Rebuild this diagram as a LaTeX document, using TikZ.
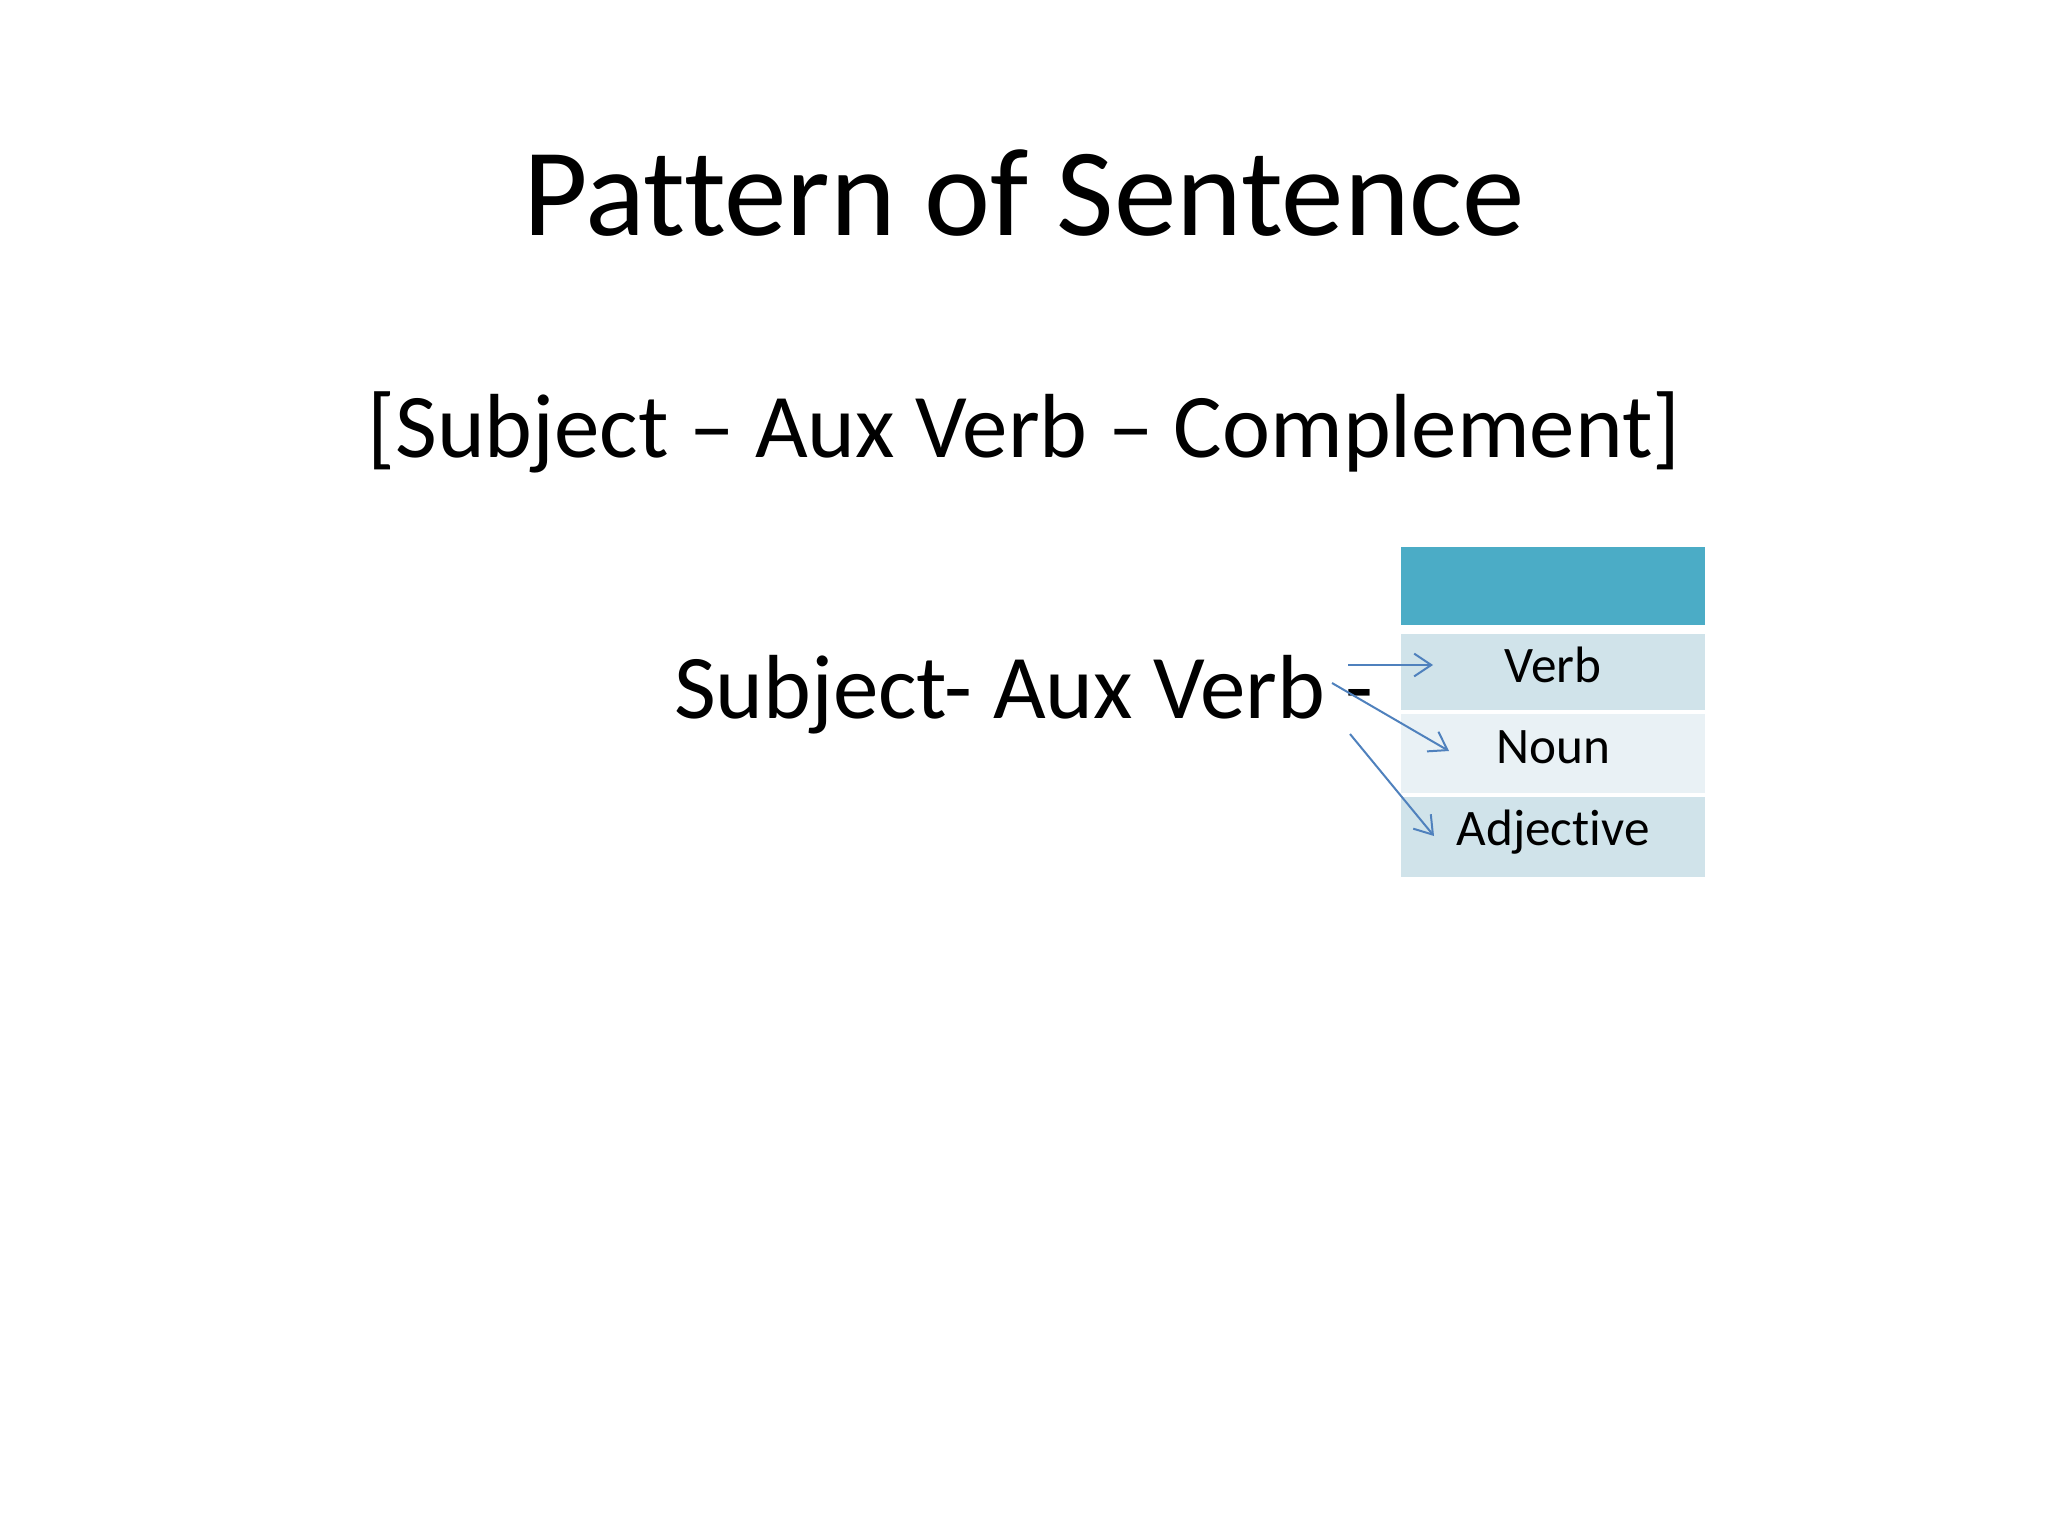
\documentclass[tikz,border=0pt]{standalone}
\usepackage{fontspec}
\setmainfont{Carlito}[Ligatures=NoCommon]
\usetikzlibrary{arrows.meta}

\definecolor{headblue}{RGB}{75,172,198}
\definecolor{bandone}{RGB}{208,227,234}
\definecolor{bandtwo}{RGB}{233,241,245}
\definecolor{arrowblue}{RGB}{79,129,189}

\begin{document}
\begin{tikzpicture}
  [x=0.3516pt,y=-0.3516pt,
   every node/.style={inner sep=0pt,outer sep=0pt},
   cell/.style={minimum width=304*0.3516pt,anchor=north west},
   entry/.style={anchor=base,font=\fontsize{18}{22}\selectfont}]

  \useasboundingbox[fill=white] (0,0) rectangle (2048,1536);

  \node[anchor=base,font=\fontsize{44}{52}\selectfont]   (title)    at (1024,235) {Pattern of Sentence};
  \node[anchor=base,font=\fontsize{32}{38}\selectfont]   (pattern)  at (1024,457) {[Subject -- Aux Verb -- Complement]};
  \node[anchor=base,font=\fontsize{32}{38}\selectfont]   (sentence) at (1024,718) {Subject- Aux Verb -};

  \node[cell,fill=headblue,minimum height=78*0.3516pt]  (head) at (1401,547) {};
  \node[cell,fill=bandone,minimum height=76*0.3516pt]   (verb) at (1401,634) {};
  \node[cell,fill=bandtwo,minimum height=79*0.3516pt]   (noun) at (1401,714) {};
  \node[cell,fill=bandone,minimum height=80*0.3516pt]   (adj)  at (1401,797) {};

  \node[entry] (verbtext) at (1553,682) {Verb};
  \node[entry] (nountext) at (1553,763) {Noun};
  \node[entry] (adjtext)  at (1553,845) {Adjective};

  \coordinate (s1) at (1348,665);
  \coordinate (s2) at (1332,683);
  \coordinate (s3) at (1350,734);
  \coordinate (e1) at (1433,665);
  \coordinate (e2) at (1449,751);
  \coordinate (e3) at (1434,836);

  \path[->, >={Straight Barb[length=6pt,width=8pt]}, color=arrowblue, line width=0.7pt]
        (s1) edge (e1)
        (s2) edge (e2)
        (s3) edge (e3);
\end{tikzpicture}
\end{document}
